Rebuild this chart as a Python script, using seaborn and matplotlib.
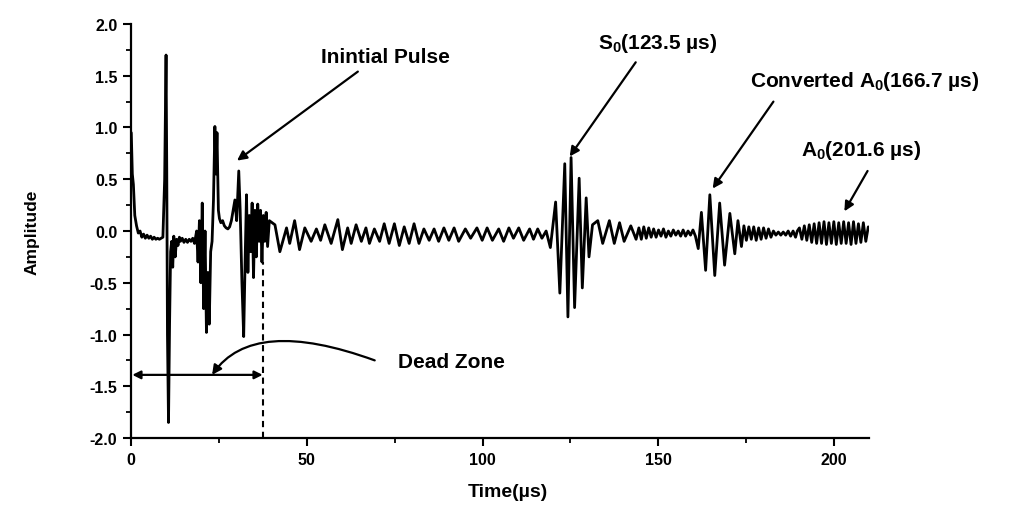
import numpy as np
import pandas as pd
import matplotlib
matplotlib.use("Agg")
import matplotlib.pyplot as plt
import seaborn as sns
from matplotlib.ticker import MultipleLocator

# ---------------- data ----------------
# initial pulse region (0-40 us)
t_init = [0.0, 0.3, 0.6, 1.0, 1.5, 2.0, 2.5, 3.0, 3.5, 4.0, 4.5, 5.0, 5.5, 6.0, 6.5, 7.0, 7.5, 8.0, 8.5, 9.0,
          9.5, 9.9, 10.1, 10.3, 10.6, 10.9, 11.2, 11.5, 11.8, 12.1, 12.5, 12.9, 13.3, 13.7, 14.0, 14.5, 15.0,
          15.5, 16.0, 16.5, 17.0, 17.5, 18.0,
          18.6, 19.0, 19.4, 19.8, 20.2, 20.6, 21.0, 21.4, 21.8, 22.2, 22.6, 23.0,
          23.4, 23.8, 24.1, 24.4, 24.8, 25.1, 25.5, 26.0, 26.5, 27.0, 27.5, 28.0, 28.5, 29.0,
          29.5, 30.0, 30.6, 31.0, 31.5, 32.0, 32.4, 32.8, 33.2, 33.6, 34.0, 34.4, 34.8, 35.2, 35.6, 36.0,
          36.4, 36.8, 37.2, 37.6, 38.0, 38.4, 38.8, 39.3]
amp_init = [0.95, 0.55, 0.45, 0.15, 0.05, -0.02, 0.0, -0.06, -0.03, -0.07, -0.04, -0.07, -0.05, -0.08, -0.06,
            -0.08, -0.07, -0.08, -0.07, -0.06,
            0.5, 1.70, 0.6, -1.0, -1.85, -0.9, -0.2, -0.1, -0.35, -0.05, -0.25, -0.08, -0.14, -0.06, -0.10,
            -0.07, -0.11, -0.08, -0.11, -0.08, -0.10, -0.07, -0.12,
            0.0, -0.3, 0.1, -0.5, 0.27, -0.75, 0.0, -0.98, -0.4, -0.9, -0.2, -0.1,
            0.3, 1.01, 0.55, 0.95, 0.2, 0.12, 0.08, 0.1, 0.05, 0.03, 0.02, 0.04, 0.1, 0.2,
            0.3, 0.1, 0.58, 0.2, -0.5, -1.02, -0.3, 0.35, -0.4, 0.15, -0.2, 0.27, -0.45, 0.2, -0.25, 0.26,
            -0.1, 0.2, -0.3, 0.15, -0.1, 0.18, -0.15, 0.1]

# reverberation noise (40-118 us)
t_noise = [40.9, 42.3, 44.2, 45.1, 46.5, 47.9, 49.4, 51.2, 52.7, 53.9, 55.1, 56.9, 58.8, 60.1, 61.6, 62.6,
           64.0, 65.5, 66.8, 67.8, 69.2, 70.7, 72.0, 73.4, 74.9, 76.3, 77.7, 79.1, 80.5, 81.9, 83.3, 84.8,
           86.2, 87.5, 89.0, 90.4, 91.9, 93.2, 95.1, 96.6, 98.4, 99.9, 101.3, 102.8, 104.6, 106.0, 107.5,
           108.8, 110.3, 111.7, 113.4, 114.5, 115.7, 116.9, 118.1]
amp_noise = [0.06, -0.20, 0.03, -0.12, 0.10, -0.18, 0.03, -0.10, 0.02, -0.09, 0.06, -0.12, 0.11, -0.18, 0.03,
             -0.12, 0.06, -0.10, 0.03, -0.12, 0.02, -0.10, 0.07, -0.12, 0.07, -0.14, 0.04, -0.12, 0.07, -0.12,
             0.02, -0.09, 0.02, -0.10, 0.03, -0.09, 0.03, -0.10, 0.02, -0.07, 0.03, -0.09, 0.03, -0.09, 0.02,
             -0.10, 0.03, -0.07, 0.03, -0.09, 0.02, -0.08, 0.02, -0.07, 0.0]

# S0 wave packet
t_s0 = [119.3, 120.8, 122.0, 123.4, 124.3, 125.2, 126.2, 127.5, 128.4, 129.5, 130.3, 131.3, 132.8, 134.2,
        136.1, 137.5, 139.0, 140.3, 142.2, 143.7]
amp_s0 = [-0.16, 0.28, -0.60, 0.65, -0.83, 0.71, -0.74, 0.51, -0.55, 0.32, -0.25, 0.06, 0.10, -0.12,
          0.10, -0.12, 0.08, -0.10, 0.05, -0.08]

# quiet stretch before converted A0
t_quiet1 = [144.5, 145.2, 145.9, 146.6, 147.3, 148.0, 148.7, 149.4, 150.1, 150.8, 151.5, 152.2, 152.9,
            153.6, 154.3, 155.0, 155.7, 156.4, 157.1, 157.8, 158.5, 159.2, 159.9, 160.6]
amp_quiet1 = [0.03, -0.08, 0.04, -0.07, 0.03, -0.06, 0.02, -0.06, 0.01, -0.05, 0.02, -0.06, 0.0, -0.05,
              0.01, -0.04, 0.0, -0.05, 0.01, -0.05, 0.0, -0.04, 0.01, -0.05]

# converted A0 wave packet
t_conv = [161.4, 162.3, 163.5, 164.7, 166.1, 167.5, 168.9, 170.4, 171.8, 172.7, 173.7]
amp_conv = [-0.17, 0.18, -0.38, 0.35, -0.43, 0.27, -0.33, 0.17, -0.22, 0.10, -0.15]

# quiet stretch before A0
t_quiet2 = [174.4, 175.1, 175.8, 176.5, 177.2, 177.9, 178.6, 179.3, 180.0, 180.7, 181.4, 182.1, 182.8,
            183.5, 184.2, 184.9, 185.6, 186.3, 187.0, 187.7, 188.4, 189.1, 189.6]
amp_quiet2 = [0.05, -0.09, 0.04, -0.08, 0.04, -0.09, 0.03, -0.08, 0.03, -0.07, 0.02, -0.06, 0.0, -0.04,
              -0.01, -0.04, -0.01, -0.04, 0.0, -0.05, 0.0, -0.06, 0.0]

# A0 wave packet
t_a0 = [190.2, 190.9, 191.6, 192.3, 193.0, 193.7, 194.4, 195.1, 195.8, 196.5, 197.2, 197.9, 198.6, 199.3,
        200.0, 200.7, 201.4, 202.1, 202.8, 203.5, 204.2, 204.9, 205.6, 206.3, 207.0, 207.7, 208.4, 209.1, 209.8]
amp_a0 = [0.03, -0.08, 0.05, -0.09, 0.06, -0.11, 0.07, -0.12, 0.08, -0.12, 0.09, -0.13, 0.08, -0.12, 0.09,
          -0.13, 0.08, -0.12, 0.09, -0.12, 0.08, -0.13, 0.09, -0.12, 0.07, -0.11, 0.08, -0.10, 0.04]

x_ticks = [0, 50, 100, 150, 200]
y_ticks = [-2.0, -1.5, -1.0, -0.5, 0.0, 0.5, 1.0, 1.5, 2.0]

# annotation anchors (data coordinates)
dead_zone_end = 37.4
dead_zone_level = -1.39
dashed_top = -0.3

# ---------------- styling ----------------
sns.set_theme(style="ticks")
plt.rcParams["font.family"] = ["Liberation Sans", "DejaVu Sans"]
plt.rcParams["font.weight"] = "bold"
plt.rcParams["mathtext.fontset"] = "custom"
plt.rcParams["mathtext.rm"] = "Liberation Sans:bold"
plt.rcParams["mathtext.it"] = "Liberation Sans:bold"
plt.rcParams["mathtext.bf"] = "Liberation Sans:bold"
plt.rcParams["mathtext.default"] = "rm"

fig = plt.figure(figsize=(10.24, 5.10), dpi=100)
ax = fig.add_axes([0.1282, 0.1392, 0.7204, 0.8118])

df = pd.DataFrame({
    "Time": np.concatenate([t_init, t_noise, t_s0, t_quiet1, t_conv, t_quiet2, t_a0]),
    "Amplitude": np.concatenate([amp_init, amp_noise, amp_s0, amp_quiet1, amp_conv, amp_quiet2, amp_a0]),
})
sns.lineplot(data=df, x="Time", y="Amplitude", color="black", lw=2.0,
             estimator=None, sort=False, ax=ax)

ax.set_xlim(0, 210)
ax.set_ylim(-2.0, 2.0)
ax.set_xticks(x_ticks)
ax.set_yticks(y_ticks)
ax.set_xticklabels([str(v) for v in x_ticks])
ax.set_yticklabels([f"{v:.1f}" for v in y_ticks])
ax.xaxis.set_minor_locator(MultipleLocator(25))
ax.yaxis.set_minor_locator(MultipleLocator(0.25))
ax.tick_params(axis="both", which="major", direction="out", length=6, width=1.5,
               color="black", labelsize=11.5, labelcolor="black", pad=4)
ax.tick_params(axis="both", which="minor", direction="out", length=3.5, width=1.3, color="black")
for lab in ax.get_xticklabels() + ax.get_yticklabels():
    lab.set_fontweight("bold")

sns.despine(ax=ax)
for side in ["left", "bottom"]:
    ax.spines[side].set_linewidth(1.6)
    ax.spines[side].set_color("black")

ax.set_xlabel("Time(µs)", fontsize=14, fontweight="bold", color="black")
ax.set_ylabel("Amplitude", fontsize=12.5, fontweight="bold", color="black")
ax.xaxis.set_label_coords(0.51, -0.13)
ax.xaxis.label.set_va("center")
ax.yaxis.set_label_coords(-0.135, 0.5)
ax.yaxis.label.set_va("center")

arrow_kw = dict(arrowstyle="-|>", color="black", lw=1.6, mutation_scale=14, shrinkA=0, shrinkB=0)
txt_kw = dict(fontsize=15, fontweight="bold", color="black", ha="center", va="center")

# Initial pulse
ax.text(72.4, 1.69, "Inintial Pulse", **txt_kw)
ax.annotate("", xy=(30.1, 0.68), xytext=(64.5, 1.54), arrowprops=arrow_kw)

# S0
ax.text(149.8, 1.82, "S$_0$(123.5 µs)", **txt_kw)
ax.annotate("", xy=(124.8, 0.72), xytext=(143.6, 1.63), arrowprops=arrow_kw)

# Converted A0
ax.text(208.7, 1.45, "Converted A$_0$(166.7 µs)", clip_on=False, **txt_kw)
ax.annotate("", xy=(165.5, 0.41), xytext=(182.8, 1.25), arrowprops=arrow_kw)

# A0
ax.text(207.9, 0.79, "A$_0$(201.6 µs)", clip_on=False, **txt_kw)
ax.annotate("", xy=(203.0, 0.19), xytext=(209.6, 0.58), arrowprops=arrow_kw, annotation_clip=False)

# Dead zone
ax.annotate("", xy=(0.3, dead_zone_level), xytext=(dead_zone_end, dead_zone_level),
            arrowprops=dict(arrowstyle="<|-|>", color="black", lw=1.6, mutation_scale=12,
                            shrinkA=0, shrinkB=0))
ax.plot([dead_zone_end, dead_zone_end], [-2.0, dashed_top], color="black", lw=1.5,
        ls=(0, (3, 2.2)))
ax.text(91.2, -1.26, "Dead Zone", **txt_kw)
ax.annotate("", xy=(23.0, dead_zone_level), xytext=(69.3, -1.25),
            arrowprops=dict(arrowstyle="-|>", color="black", lw=1.6, mutation_scale=14,
                            shrinkA=0, shrinkB=0,
                            connectionstyle="angle3,angleA=160,angleB=55"))

fig.savefig("out.png", dpi=100)
